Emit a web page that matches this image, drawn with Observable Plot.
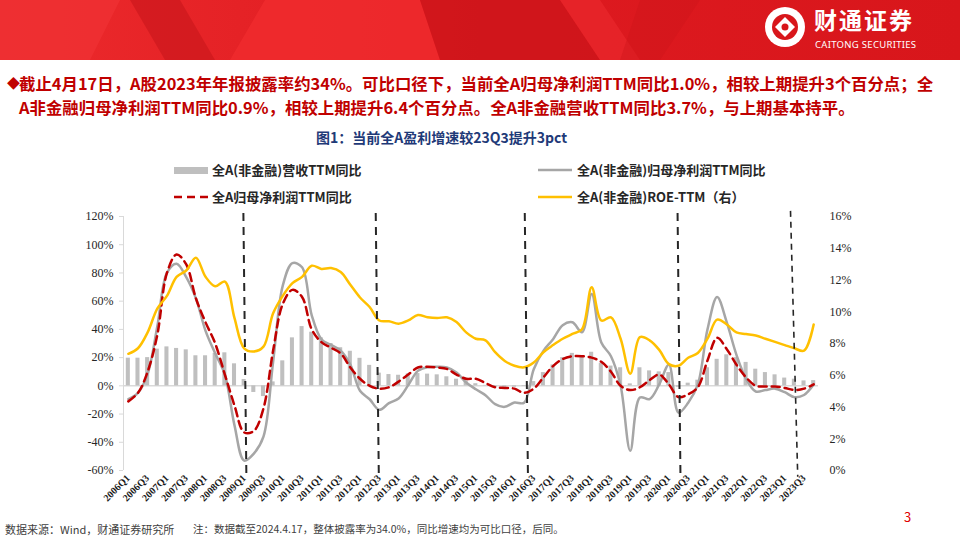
<!DOCTYPE html>
<html><head><meta charset="utf-8">
<script src="https://cdn.jsdelivr.net/npm/d3@7"></script>
<script src="https://cdn.jsdelivr.net/npm/@observablehq/plot@0.6"></script>
<style>
html,body{margin:0;padding:0;}
body{width:960px;height:540px;overflow:hidden;background:#fff;position:relative;font-family:"Noto Sans CJK SC","Noto Sans",sans-serif;}
.abs{position:absolute;white-space:nowrap;}
.para{color:#C00000;font-weight:bold;font-size:17px;line-height:24px;}
.leg{font-size:13px;font-weight:bold;color:#262626;line-height:16px;}
#chart{position:absolute;left:0;top:200px;}
</style></head><body>

<svg class="abs" style="left:0;top:0" width="960" height="60">
  <defs>
    <linearGradient id="bg" x1="0" x2="1" y1="0" y2="0">
      <stop offset="0" stop-color="#EC2A2C"/><stop offset="0.5" stop-color="#DE1A20"/><stop offset="1" stop-color="#D8161B"/>
    </linearGradient>
  </defs>
  <rect width="960" height="60" fill="url(#bg)"/>
  <polygon points="0,0 120,0 90,60 0,60" fill="#F03235" opacity="0.7"/>
  <polygon points="130,0 180,0 215,60 165,60" fill="#C8151A" opacity="0.6"/>
  <polygon points="265,0 420,0 440,60 230,60" fill="#F02C2E" opacity="0.8"/>
  <polygon points="420,0 560,0 600,60 440,60" fill="#C41218" opacity="0.55"/>
  <polygon points="560,0 600,0 640,60 600,60" fill="#E8262A" opacity="0.8"/>
  <polygon points="640,0 700,0 660,60 620,60" fill="#CC1419" opacity="0.4"/>
  <circle cx="785" cy="27" r="20" fill="#fff"/>
  <circle cx="785" cy="27" r="13" fill="#D8161B"/>
  <polygon points="785,17 795,27 785,37 775,27" fill="#fff"/>
  <circle cx="785" cy="27" r="3.5" fill="#D8161B"/>
  <text x="814" y="29" fill="#fff" font-size="23" font-weight="bold" font-family="Noto Sans CJK SC" letter-spacing="2">财通证券</text>
  <text x="815" y="48" fill="#fff" font-size="9.5" font-family="Noto Sans,sans-serif" letter-spacing="0.3">CAITONG SECURITIES</text>
</svg>

<div class="abs para" style="left:7px;top:71px;font-size:13px;">◆</div>
<div class="abs para" id="l1" style="left:19px;top:71px;">截止4月17日，A股2023年年报披露率约34%。可比口径下，当前全A归母净利润TTM同比1.0%，相较上期提升3个百分点；全</div>
<div class="abs para" id="l2" style="left:19px;top:95px;">A非金融归母净利润TTM同比0.9%，相较上期提升6.4个百分点。全A非金融营收TTM同比3.7%，与上期基本持平。</div>
<div class="abs" id="title" style="left:316px;top:127px;font-size:14px;font-weight:bold;color:#1F3A78;">图1：当前全A盈利增速较23Q3提升3pct</div>

<div class="abs" style="left:174px;top:167px;width:34px;height:7px;background:#BFBFBF"></div>
<div class="abs leg" style="left:212px;top:162px;">全A(非金融)营收TTM同比</div>
<svg class="abs" style="left:172px;top:190px" width="40" height="14"><line x1="2" y1="7" x2="36" y2="7" stroke="#C00000" stroke-width="2.5" stroke-dasharray="8,5"/></svg>
<div class="abs leg" style="left:212px;top:189px;">全A归母净利润TTM同比</div>
<svg class="abs" style="left:536px;top:163px" width="40" height="14"><line x1="2" y1="7" x2="36" y2="7" stroke="#A6A6A6" stroke-width="2.5"/></svg>
<div class="abs leg" style="left:577px;top:162px;">全A(非金融)归母净利润TTM同比</div>
<svg class="abs" style="left:536px;top:190px" width="40" height="14"><line x1="2" y1="7" x2="36" y2="7" stroke="#FFC000" stroke-width="2.5"/></svg>
<div class="abs leg" style="left:577px;top:189px;">全A(非金融)ROE-TTM（右）</div>

<div id="chart"></div>

<div class="abs" style="left:5px;top:521px;font-size:11px;color:#404040;">数据来源：Wind，财通证券研究所</div>
<div class="abs" style="left:193px;top:521px;font-size:10.5px;color:#404040;">注：数据截至2024.4.17，整体披露率为34.0%，同比增速均为可比口径，后同。</div>
<div class="abs" style="left:904px;top:507px;font-size:13px;color:#E00000;">3</div>

<script>
// fit the first paragraph line to the slide width
(function(){
  const l1 = document.getElementById("l1"), l2 = document.getElementById("l2");
  const target = 934 - 19;
  const w = l1.getBoundingClientRect().width;
  const fs = 17 * target / w;
  l1.style.fontSize = fs + "px";
  l2.style.fontSize = fs + "px";
})();

const quarters = ["2006Q1","2006Q2","2006Q3","2006Q4","2007Q1","2007Q2","2007Q3","2007Q4","2008Q1","2008Q2","2008Q3","2008Q4",
"2009Q1","2009Q2","2009Q3","2009Q4","2010Q1","2010Q2","2010Q3","2010Q4","2011Q1","2011Q2","2011Q3","2011Q4",
"2012Q1","2012Q2","2012Q3","2012Q4","2013Q1","2013Q2","2013Q3","2013Q4","2014Q1","2014Q2","2014Q3","2014Q4",
"2015Q1","2015Q2","2015Q3","2015Q4","2016Q1","2016Q2","2016Q3","2016Q4","2017Q1","2017Q2","2017Q3","2017Q4",
"2018Q1","2018Q2","2018Q3","2018Q4","2019Q1","2019Q2","2019Q3","2019Q4","2020Q1","2020Q2","2020Q3","2020Q4",
"2021Q1","2021Q2","2021Q3","2021Q4","2022Q1","2022Q2","2022Q3","2022Q4","2023Q1","2023Q2","2023Q3","2023Q4"];

// 全A(非金融)营收TTM同比 (%)
const revenueYoY = [19.6,19.6,20,26,27.6,26.5,25.5,21.3,21.3,23,23.4,15.6,
4.5,-4.7,-7.6,2.8,17.7,34,42,38,34,30,27,24.5,
19.5,14.5,9,8,7.5,8.5,8.7,8.3,7.8,6.4,4.7,3.5,
1.5,0.3,-1.2,-1.6,-1,-0.5,3,9.4,14.8,20,23,20.7,
23.8,16,14,12.8,1.4,12.8,10.6,9.9,9.4,-1,1.9,4,
12.8,18.8,22,20,16.6,11.8,9.4,7.8,5.5,4.7,3.5,3.7];

// 全A(非金融)归母净利润TTM同比 (%)
const profitNonFinYoY = [-9.4,-5,8.5,42,80,86.5,77,62,39,23,8,-28,
-53,-48,-36,17,71,87,84,50,33,29,25,15,
-3.5,-9.5,-17,-12.3,-9,0.5,10.6,13.2,13.5,13,9.4,2.4,
-2.4,-6.6,-13,-14.9,-11.8,-12,11.8,24.8,33,43,45,38,
65,30.7,21,0,-46,-8.3,-9.4,1,15,-19,-12,1,
40,63,45,22,5,-4,-3,-2,-4.5,-8,-6.5,0.9];

// 全A归母净利润TTM同比 (%)
const profitAllYoY = [-11,-5,10,36,80,93,86,62,45,30,8,-14,
-33,-32,-16,25,58,68,63,40,31,27,23,13,
5,0,-2,-1,3,8,13,13.5,13,12,8,5,
5,2,-1,-1.5,-2,-5,-2,6,14,19,21,21,
20,17,10,0,-3,-1,4,8,1,-8,-6,-1,
18,34,26,15,6,0,-0.5,-0.5,-1.5,-3,-2,1.0];

// 全A(非金融)ROE-TTM (%, right axis)
const roeTTM = [7.35,7.7,8.7,10.2,11.0,12.2,12.6,13.4,12.2,11.6,11.9,9.6,
7.7,7.5,7.8,9.9,11.0,11.8,12.2,12.9,12.7,12.75,12.5,11.7,
10.9,10.3,9.45,9.4,9.25,9.45,9.8,9.65,9.6,9.65,9.35,8.7,
8.3,8.2,7.45,6.9,6.6,6.5,6.8,7.45,7.9,8.3,8.6,8.9,
11.55,9.45,9.65,8.3,6.1,8.4,8.2,7.6,6.7,6.6,7.1,7.4,
8.3,9.5,9.2,8.7,8.6,8.5,8.3,8.1,7.9,7.7,7.55,9.2];

const leftTicks = [-60,-40,-20,0,20,40,60,80,100,120];
const rightTicks = [0,2,4,6,8,10,12,14,16];
// vertical dashed period dividers (quarter-index position at top and bottom)
const dividers = [
  {top:11.92, bottom:12.23},
  {top:25.63, bottom:25.95},
  {top:41.07, bottom:41.4},
  {top:56.9, bottom:57.2}
];
const lastDivider = [{top:68.6, bottom:69.35}];

const LEFT_MIN = -60, LEFT_MAX = 120, RIGHT_MAX = 16;
const toLeft = r => LEFT_MIN + r * (LEFT_MAX - LEFT_MIN) / RIGHT_MAX;
const fromLeft = v => (v - LEFT_MIN) * RIGHT_MAX / (LEFT_MAX - LEFT_MIN);

const data = quarters.map((q, i) => ({i, q, rev: revenueYoY[i], np: profitNonFinYoY[i], npa: profitAllYoY[i], roe: roeTTM[i]}));
const labelIdx = quarters.map((q, i) => i).filter(i => i % 2 === 0);

const chart = Plot.plot({
  width: 960, height: 320,
  marginLeft: 123, marginRight: 142, marginTop: 16, marginBottom: 50,
  x: {type: "linear", domain: [-0.5, 71.5], label: null},
  y: {domain: [LEFT_MIN, LEFT_MAX], label: null},
  style: {fontFamily: "'Liberation Serif', 'Times New Roman', serif", fontSize: "12px", color: "#262626", background: "transparent", overflow: "visible"},
  marks: [
    Plot.ruleX([-0.5], {y1: LEFT_MIN, y2: LEFT_MAX, stroke: "#D9D9D9", strokeWidth: 1}),
    Plot.ruleY([0], {stroke: "#D9D9D9", strokeWidth: 1.5}),
    Plot.rectY(data, {x1: d => d.i - 0.21, x2: d => d.i + 0.21, y1: 0, y2: "rev", fill: "#BFBFBF"}),
    Plot.line(data, {x: "i", y: "np", stroke: "#A6A6A6", strokeWidth: 2.5, curve: "catmull-rom"}),
    Plot.line(data, {x: "i", y: "npa", stroke: "#C00000", strokeWidth: 2.5, strokeDasharray: "8,5", curve: "catmull-rom"}),
    Plot.line(data, {x: "i", y: d => toLeft(d.roe), stroke: "#FFC000", strokeWidth: 2.5, curve: "catmull-rom"}),
    Plot.link(dividers, {x1: "top", x2: "bottom", y1: () => 122.5, y2: () => -64, stroke: "#262626", strokeWidth: 2, strokeDasharray: "8,6"}),
    Plot.link(lastDivider, {x1: "top", x2: "bottom", y1: () => 124, y2: () => -64.5, stroke: "#262626", strokeWidth: 1.6, strokeDasharray: "6,5"}),
    Plot.axisY(leftTicks, {anchor: "left", tickSize: 4, tickPadding: 6, stroke: "#D9D9D9", fill: "#262626", tickFormat: d => d + "%", label: null}),
    Plot.axisY(rightTicks.map(toLeft), {anchor: "right", tickSize: 0, tickPadding: 11, fill: "#262626", tickFormat: v => Math.round(fromLeft(v)) + "%", label: null}),
    Plot.axisX(labelIdx, {anchor: "bottom", tickSize: 0, tickPadding: 6, tickRotate: -45, fontSize: 10, fontWeight: "bold", fill: "#1a1a1a", tickFormat: i => quarters[i], label: null})
  ]
});
document.getElementById("chart").appendChild(chart);
</script>
</body></html>
